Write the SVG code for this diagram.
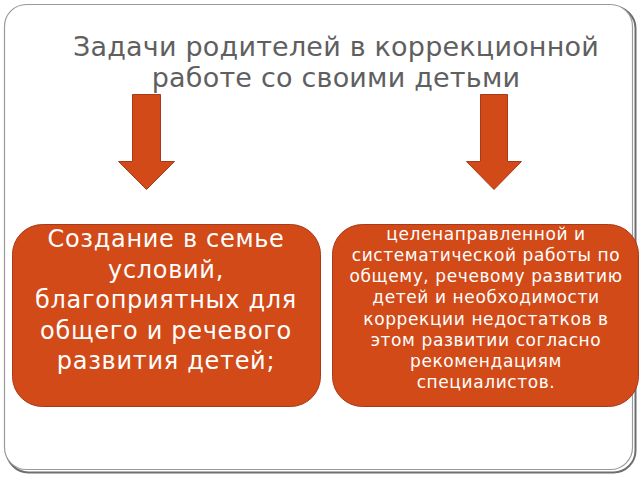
<svg xmlns="http://www.w3.org/2000/svg" width="640" height="480" viewBox="0 0 640 480">
<style>
.box{fill:#D24A18;stroke:#A8391A;stroke-width:1}
.arrow{fill:#D24A18;stroke:#A8391A;stroke-width:1}
.title{font-family:"DejaVu Sans",sans-serif;font-size:27px;letter-spacing:0.2px;fill:#5F5F5F;text-anchor:middle}
.t1{font-family:"DejaVu Sans",sans-serif;font-size:24px;letter-spacing:0.7px;fill:#FFFFFF;text-anchor:middle}
.t2{font-family:"DejaVu Sans",sans-serif;font-size:17px;letter-spacing:0.6px;fill:#FFFFFF;text-anchor:middle}
</style>
<rect width="640" height="480" fill="#FFFFFF"/>
<g id="frame">
<rect x="6.5" y="6.5" width="629" height="466" rx="22" fill="none" stroke="#6E6E6E" stroke-width="2"/>
<rect x="4.5" y="4.5" width="628" height="465" rx="22" fill="#FFFFFF" stroke="#9A9A9A" stroke-width="1.2"/>
</g>
<g id="title">
<text class="title" x="336" y="56">Задачи родителей в коррекционной</text>
<text class="title" x="336" y="87">работе со своими детьми</text>
</g>
<g id="connectors">
<path class="arrow" d="M132.5,94.5 H160.5 V161.5 H174.5 L146.5,189.5 L118.5,161.5 H132.5 Z"/>
<path class="arrow" d="M480.5,94.5 H507.5 V161.5 H521.5 L494,189.5 L466.5,161.5 H480.5 Z"/>
</g>
<g id="node-left">
<rect class="box" x="12.5" y="224.5" width="308" height="182" rx="30"/>
<text class="t1" x="166" y="247">Создание в семье</text>
<text class="t1" x="166" y="278">условий,</text>
<text class="t1" x="166" y="308">благоприятных для</text>
<text class="t1" x="166" y="339">общего и речевого</text>
<text class="t1" x="166" y="369">развития детей;</text>
</g>
<g id="node-right">
<rect class="box" x="332.5" y="224.5" width="306" height="182" rx="30"/>
<text class="t2" x="486" y="240">целенаправленной и</text>
<text class="t2" x="486" y="261">систематической работы по</text>
<text class="t2" x="486" y="282">общему, речевому развитию</text>
<text class="t2" x="486" y="303">детей и необходимости</text>
<text class="t2" x="486" y="325">коррекции недостатков в</text>
<text class="t2" x="486" y="346">этом развитии согласно</text>
<text class="t2" x="486" y="367">рекомендациям</text>
<text class="t2" x="486" y="388">специалистов.</text>
</g>
</svg>
